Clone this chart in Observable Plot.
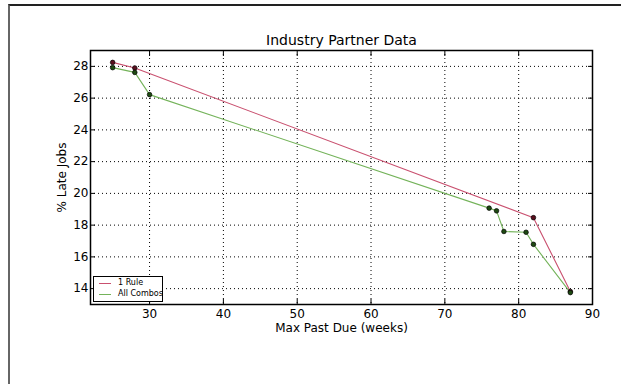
<!DOCTYPE html>
<html>
<head>
<meta charset="utf-8">
<script src="https://cdn.jsdelivr.net/npm/d3@7"></script>
<script src="https://cdn.jsdelivr.net/npm/@observablehq/plot@0.6"></script>
<style>
  html, body { margin: 0; padding: 0; background: #fff; }
  #wrap { position: relative; width: 621px; height: 384px; overflow: hidden; font-family: "DejaVu Sans", sans-serif; }
  #border { position: absolute; left: 8px; top: 4px; width: 700px; height: 500px; border-left: 2px solid #666; border-top: 2px solid #222; box-sizing: border-box; }
  #legend { position: absolute; left: 93px; top: 276px; width: 68px; height: 24px; background: #fff; border: 1px solid #000; font-size: 8px; }
  .row { position: absolute; left: 0; height: 10px; line-height: 10px; }
  .sw { position: absolute; left: 5px; top: 5px; width: 12px; height: 0; border-top: 1.2px solid; }
  .lb { position: absolute; left: 24px; top: 0; white-space: nowrap; color: #000; }
</style>
</head>
<body>
<div id="wrap">
  <div id="border"></div>
  <div id="chart"></div>
  <div id="legend"></div>
</div>
<script>
const title = "Industry Partner Data";
const xLabel = "Max Past Due (weeks)";
const yLabel = "% Late Jobs";
const seriesNames = ["1 Rule", "All Combos"];
const seriesColors = ["#c9506f", "#74b35a"];
const markerFills = ["#5a0f1e", "#1e4a12"];

const ruleX = [25, 28, 82, 87];
const ruleY = [28.25, 27.9, 18.47, 13.82];
const comboX = [25, 28, 30, 76, 77, 78, 81, 82, 87];
const comboY = [27.92, 27.62, 26.22, 19.07, 18.9, 17.6, 17.55, 16.79, 13.75];

const xTicks = [30, 40, 50, 60, 70, 80, 90];
const yTicks = [14, 16, 18, 20, 22, 24, 26, 28];

const rule = ruleX.map((x, i) => ({x, y: ruleY[i]}));
const combo = comboX.map((x, i) => ({x, y: comboY[i]}));

const font = "DejaVu Sans, sans-serif";

const chart = Plot.plot({
  width: 621,
  height: 384,
  marginLeft: 90,
  marginRight: 29,
  marginTop: 50,
  marginBottom: 80,
  style: {fontFamily: font, fontSize: "12px", background: "transparent", overflow: "visible"},
  x: {domain: [22, 90], ticks: xTicks},
  y: {domain: [13, 29], ticks: yTicks},
  marks: [
    Plot.gridX(xTicks, {stroke: "#000", strokeOpacity: 1, strokeDasharray: "1,3", strokeWidth: 1}),
    Plot.gridY(yTicks, {stroke: "#000", strokeOpacity: 1, strokeDasharray: "1,3", strokeWidth: 1}),
    Plot.axisX(xTicks, {anchor: "bottom", tickSize: -5, tickPadding: 10, fontSize: 12, label: null, stroke: "#000"}),
    Plot.axisX(xTicks, {anchor: "top", tickSize: -5, tickFormat: () => "", label: null}),
    Plot.axisY(yTicks, {anchor: "left", tickSize: -5, tickPadding: 7, fontSize: 12, label: null}),
    Plot.axisY(yTicks, {anchor: "right", tickSize: -5, tickFormat: () => "", label: null}),
    Plot.text([xLabel], {frameAnchor: "bottom", dy: 19, lineAnchor: "top", fontSize: 12}),
    Plot.text([yLabel], {frameAnchor: "left", dx: -28, rotate: -90, fontSize: 12, textAnchor: "middle"}),
    Plot.text([title], {frameAnchor: "top", dy: -6, lineAnchor: "bottom", fontSize: 14}),
    Plot.line(rule, {x: "x", y: "y", stroke: seriesColors[0], strokeWidth: 1.1}),
    Plot.line(combo, {x: "x", y: "y", stroke: seriesColors[1], strokeWidth: 1.1}),
    Plot.dot(rule, {x: "x", y: "y", r: 2.3, fill: markerFills[0], stroke: "#000", strokeWidth: 0.7}),
    Plot.dot(combo, {x: "x", y: "y", r: 2.3, fill: markerFills[1], stroke: "#000", strokeWidth: 0.7}),
    Plot.frame({stroke: "#000", strokeWidth: 1.5})
  ]
});
document.getElementById("chart").appendChild(chart);

const legend = document.getElementById("legend");
seriesNames.forEach((name, i) => {
  const row = document.createElement("div");
  row.className = "row";
  row.style.top = (1 + i * 11) + "px";
  row.style.width = "100%";
  const sw = document.createElement("div");
  sw.className = "sw";
  sw.style.borderTopColor = seriesColors[i];
  const lb = document.createElement("div");
  lb.className = "lb";
  lb.textContent = name;
  row.appendChild(sw);
  row.appendChild(lb);
  legend.appendChild(row);
});
</script>
</body>
</html>
